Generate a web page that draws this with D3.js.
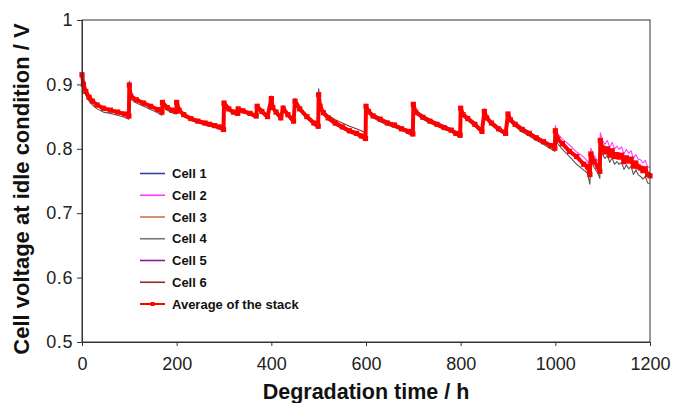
<!DOCTYPE html>
<html><head><meta charset="utf-8">
<script src="https://cdn.jsdelivr.net/npm/d3@7/dist/d3.min.js"></script>
<style>body{margin:0;background:#fff}svg{display:block}</style>
</head><body><svg id="chart" width="676" height="403"></svg>
<script>
// Degradation time (h), shared by all series
const hours = [
  0,3,8,15,22,32,45,60,75,90,99,
  100,103,115,130,145,160,169,
  170,180,190,199,
  200,205,215,230,245,260,270,280,290,299,
  300,310,320,329,
  330,340,355,368,
  370,380,392,
  400,403,410,420,
  425,435,447,
  450,460,475,490,499,
  500,503,510,520,535,550,565,580,590,599,
  600,605,615,630,645,660,675,690,699,
  700,705,720,735,750,765,780,790,799,
  800,805,815,830,845,
  850,855,865,880,895,
  900,905,915,930,945,960,975,990,999,
  1000,1005,1015,1030,1045,1060,1068,1073,
  1075,1082,1090,1094,
  1095,1100,1105,1110,1115,1120,1125,1130,1135,1140,1145,1150,1155,1160,1165,1170,1175,1180,1185,1190,1195,1200
];
// Cell voltages in mV
const cell1 = [
  916,901,890,881,875,869,864,861,858,855,852,
  905,884,877,872,867,862,858,
  874,865,861,859,
  874,861,854,848,844,841,839,837,835,831,
  874,863,858,856,
  864,860,856,852,
  869,859,851,
  882,866,858,849,
  867,855,844,
  878,864,852,842,836,
  893,870,859,851,843,836,830,826,822,818,
  869,861,854,848,843,838,834,829,825,
  872,860,852,846,841,836,831,827,823,
  866,856,850,841,829,
  862,851,843,834,826,
  857,848,841,833,826,819,813,807,803,
  830,816,808,798,787,778,772,758,
  793,780,771,764,
  814,800,794,800,789,796,787,790,786,789,779,785,780,783,772,777,771,769,765,768,759,757
];
const cell2 = [
  915,899,888,879,873,867,862,859,856,853,850,
  898,881,875,870,865,860,856,
  871,863,859,857,
  871,859,852,846,842,839,837,835,833,828,
  870,861,856,854,
  861,858,854,850,
  865,857,849,
  877,863,856,847,
  862,852,842,
  873,861,849,839,833,
  883,865,855,847,839,833,826,822,818,814,
  865,857,850,844,839,835,831,825,822,
  868,856,848,842,837,832,828,823,820,
  862,852,846,837,826,
  857,847,839,830,823,
  853,844,837,829,823,816,810,805,802,
  836,823,815,806,795,787,781,768,
  801,789,781,774,
  825,813,807,813,802,810,800,804,799,803,792,799,793,797,785,791,784,783,778,782,772,771
];
const cell3 = [
  914,899,888,879,873,867,862,859,856,853,850,
  898,881,875,870,865,860,856,
  871,863,859,857,
  871,859,852,846,842,839,837,835,833,829,
  870,861,856,854,
  861,858,854,850,
  865,857,849,
  877,863,856,847,
  862,852,842,
  873,861,849,839,834,
  883,865,855,847,840,834,828,824,820,816,
  865,857,850,844,839,835,831,825,822,
  868,856,848,842,837,832,828,823,820,
  862,852,846,837,826,
  857,847,839,830,823,
  853,844,837,829,823,816,810,804,800,
  827,814,806,796,785,777,771,759,
  791,779,771,764,
  812,800,794,799,789,796,787,790,786,789,779,785,780,783,772,777,771,769,765,768,759,757
];
const cell4 = [
  912,895,883,874,868,862,857,855,852,849,846,
  895,877,871,866,861,856,852,
  868,860,856,854,
  868,857,850,844,840,837,835,833,831,827,
  868,859,854,852,
  859,856,852,848,
  863,855,847,
  875,861,854,845,
  860,850,840,
  871,859,847,837,832,
  880,863,853,846,838,832,827,823,819,815,
  863,855,848,842,837,833,829,823,820,
  866,854,846,840,835,830,826,821,818,
  860,850,844,835,824,
  855,845,837,828,821,
  851,842,835,826,820,813,807,800,796,
  822,808,799,788,776,767,762,745,
  784,771,762,754,
  805,791,785,790,779,786,776,780,776,779,768,775,769,773,760,767,760,757,753,757,747,746
];
const cell5 = [
  914,899,888,879,873,867,862,859,856,853,850,
  899,881,875,870,865,860,856,
  871,863,859,857,
  871,859,852,846,842,839,837,835,833,829,
  870,861,856,854,
  861,858,854,850,
  865,857,849,
  877,863,856,847,
  862,852,842,
  873,861,849,839,833,
  883,864,854,845,837,831,825,821,817,813,
  865,857,850,844,839,835,831,825,822,
  868,856,848,842,837,832,828,823,820,
  862,852,846,837,826,
  857,847,839,830,823,
  853,844,837,829,823,816,810,804,800,
  828,815,807,797,786,778,772,760,
  792,780,772,765,
  813,801,795,800,790,797,788,791,787,790,780,786,781,784,773,778,772,770,766,769,760,758
];
const cell6 = [
  916,901,890,881,875,869,864,861,858,855,852,
  900,883,877,872,867,862,858,
  873,865,861,859,
  873,861,854,848,844,841,839,837,835,831,
  872,863,858,856,
  863,860,856,852,
  867,859,851,
  879,865,858,849,
  864,854,844,
  875,863,851,841,836,
  885,868,859,852,845,840,835,831,828,825,
  867,859,852,846,841,837,833,827,824,
  870,858,850,844,839,834,830,825,822,
  864,854,848,839,828,
  859,849,841,832,825,
  855,846,839,831,825,818,812,806,802,
  828,815,807,797,786,778,772,760,
  792,780,772,765,
  813,801,795,800,790,797,788,791,787,790,780,786,781,784,773,778,772,770,766,769,760,758
];
const stackAverage = [
  915,900,889,880,874,868,863,860,857,854,851,
  899,882,876,871,866,861,857,
  872,864,860,858,
  872,860,853,847,843,840,838,836,834,830,
  871,862,857,855,
  862,859,855,851,
  866,858,850,
  878,864,857,848,
  863,853,843,
  874,862,850,840,835,
  884,866,856,848,840,834,828,824,820,816,
  866,858,851,846,840,837,831,827,823,
  869,857,849,843,838,833,829,824,821,
  863,853,847,838,827,
  858,848,840,831,824,
  854,845,838,830,824,817,811,805,801,
  828,815,808,796,788,776,772,760,
  792,780,772,765,
  813,801,795,800,790,797,788,791,787,790,780,786,781,784,773,778,772,770,766,769,760,758
];
const seriesNames = ["Cell 1","Cell 2","Cell 3","Cell 4","Cell 5","Cell 6","Average of the stack"];
const xTickValues = [0,200,400,600,800,1000,1200];
const yTickValues = [0.5,0.6,0.7,0.8,0.9,1];

const colors = ["#3b3ba8","#ff3cff","#c87850","#555555","#8a1c9c","#9c2828","#ff0000"];
const allSeries = [cell1,cell2,cell3,cell4,cell5,cell6,stackAverage];
allSeries.forEach((s,i)=>{ if(s.length!==hours.length) console.error("length mismatch", seriesNames[i], s.length, hours.length); });

const svg = d3.select("#chart");
const m = {left:82, right:26, top:20, bottom:61};
const W = 676, H = 403;
const x = d3.scaleLinear().domain([0,1200]).range([m.left, W-m.right]);
const y = d3.scaleLinear().domain([0.5,1]).range([H-m.bottom, m.top]);

const font = "'Liberation Sans', Arial, Helvetica, sans-serif";

// series lines
const line = d3.line().x((d,i)=>x(hours[i])).y(d=>y(d/1000));
const g = svg.append("g");
allSeries.forEach((s,i)=>{
  g.append("path").datum(s).attr("d",line).attr("fill","none")
   .attr("stroke",colors[i]).attr("stroke-width", i===6 ? 4 : 1.1)
   .attr("stroke-linejoin","round");
});
// average markers
g.selectAll("rect.mk").data(stackAverage).join("rect").attr("class","mk")
  .attr("x",(d,i)=>x(hours[i])-2.6).attr("y",d=>y(d/1000)-2.6)
  .attr("width",5.2).attr("height",5.2).attr("fill","#ff0000");

// frame
svg.append("rect").attr("x",x(0)).attr("y",y(1)).attr("width",x(1200)-x(0)).attr("height",y(0.5)-y(1))
  .attr("fill","none").attr("stroke","#333").attr("stroke-width",1);

// axes
const xAxis = svg.append("g").attr("transform",`translate(0,${y(0.5)})`)
  .call(d3.axisBottom(x).tickValues(xTickValues).tickFormat(d3.format("d")).tickSize(4).tickPadding(11));
const yAxis = svg.append("g").attr("transform",`translate(${x(0)},0)`)
  .call(d3.axisLeft(y).tickValues(yTickValues).tickFormat(d=>d===1?"1":d3.format(".1f")(d)).tickSize(5).tickPadding(4));
[xAxis,yAxis].forEach(a=>{
  a.select(".domain").attr("stroke","#333");
  a.selectAll(".tick line").attr("stroke","#333");
  a.selectAll(".tick text").attr("fill","#222").style("font-family",font).style("font-size","18px");
});
yAxis.selectAll(".tick text").attr("letter-spacing","0.6px");

// axis titles
svg.append("text").attr("x",366).attr("y",399).attr("text-anchor","middle")
  .style("font-family",font).style("font-size","21.5px").style("font-weight","bold").attr("fill","#111")
  .text("Degradation time / h");
svg.append("text").attr("transform","translate(29,189) rotate(-90)").attr("text-anchor","middle")
  .style("font-family",font).style("font-size","22px").style("font-weight","bold").attr("fill","#111")
  .text("Cell voltage at idle condition / V");

// legend
const leg = svg.append("g");
const legY = d3.scalePoint().domain(seriesNames).range([173.5,304]);
seriesNames.forEach((n,i)=>{
  const yy = legY(n);
  leg.append("line").attr("x1",140).attr("x2",165).attr("y1",yy).attr("y2",yy)
    .attr("stroke", i===3 ? "#777" : colors[i]).attr("stroke-width", i===6 ? 2 : 1.6);
  if(i===6) leg.append("rect").attr("x",150.5).attr("y",yy-2).attr("width",4).attr("height",4).attr("fill","#ff0000");
  leg.append("text").attr("x",172).attr("y",yy+4.6).text(n)
    .style("font-family",font).style("font-size","13px").style("font-weight","bold").attr("fill","#111");
});
</script></body></html>
